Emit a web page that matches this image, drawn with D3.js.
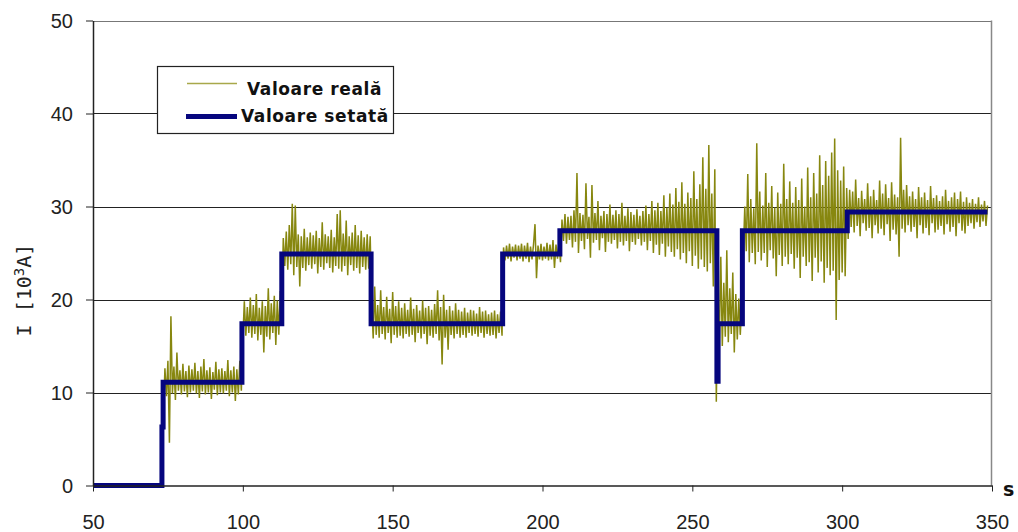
<!DOCTYPE html>
<html>
<head>
<meta charset="utf-8">
<script src="https://cdn.jsdelivr.net/npm/d3@7"></script>
<style>
  html, body { margin: 0; padding: 0; background: #fff; }
  svg { display: block; }
</style>
</head>
<body>
<svg id="chart" width="1018" height="532"></svg>
<script>
// Axis ticks
const xTicks = [50, 100, 150, 200, 250, 300, 350];
const yTicks = [0, 10, 20, 30, 40, 50];

// Set-point current (step series): change times [s] and levels [10^3 A]
const setTimes  = [50, 73.0, 73.4, 99.7, 113.0, 142.8, 186.7, 205.8, 258.2, 258.6, 266.7, 301.7, 348.5];
const setLevels = [0,  6.3,  11.1, 17.4, 24.9,  17.4,  24.9,  27.4,  11.2,  17.4,  27.4,  29.4,  29.4];

// Measured current, sampled every 0.5 s from t = 73 s (one row = 10 s)
const realStart = 73.0;
const realStep = 0.5;
const realValues = [
  0.2, 7.5, 12.6, 9.6, 13.4, 4.6, 18.2, 9.9, 12.8, 9.2, 14.3, 10.2, 12.4, 9.8, 13.1, 10.1, 12.3, 9.5, 12.9, 10.0,
  12.5, 10.2, 13.2, 9.9, 12.3, 9.4, 12.8, 10.1, 13.6, 9.8, 12.4, 10.0, 12.7, 9.3, 12.2, 10.3, 13.3, 9.7, 12.5, 10.0,
  12.6, 9.9, 12.3, 10.2, 13.5, 9.6, 12.4, 10.0, 12.8, 9.1, 12.5, 9.8, 13.4, 10.2, 15.8, 19.8, 16.1, 19.2, 16.4, 20.2,
  15.9, 19.4, 16.3, 20.6, 15.6, 19.1, 16.2, 19.8, 14.3, 19.3, 16.0, 21.2, 15.7, 19.6, 16.4, 20.4, 15.1, 19.9, 16.2, 20.9,
  19.0, 26.6, 23.6, 27.3, 23.2, 28.0, 23.8, 30.3, 22.6, 30.1, 23.5, 27.0, 21.4, 26.8, 23.4, 27.6, 23.1, 26.7, 23.7, 27.2,
  23.3, 26.9, 23.8, 27.4, 22.8, 26.6, 23.5, 28.3, 23.2, 27.0, 23.9, 26.8, 23.4, 27.5, 22.9, 26.7, 23.6, 29.2, 23.3, 29.6,
  23.0, 27.1, 23.6, 28.5, 22.6, 26.8, 23.7, 27.2, 23.1, 28.0, 23.4, 26.9, 22.8, 27.4, 23.5, 26.7, 23.2, 27.0, 23.3, 26.8,
  19.6, 15.8, 21.4, 16.2, 19.4, 15.9, 21.0, 16.3, 19.2, 15.7, 20.3, 16.4, 19.0, 15.3, 20.8, 16.2, 19.3, 15.9, 19.8, 16.1,
  19.1, 15.8, 19.6, 16.3, 18.9, 16.0, 20.2, 16.2, 19.0, 15.4, 19.4, 16.4, 18.8, 15.8, 19.9, 16.3, 19.1, 15.2, 19.3, 16.1,
  18.9, 15.9, 19.5, 16.3, 21.0, 15.6, 19.2, 13.0, 20.5, 15.9, 18.9, 14.6, 19.3, 16.2, 18.8, 15.8, 19.6, 16.3, 18.9, 15.9,
  18.7, 16.2, 19.1, 15.9, 18.6, 16.4, 18.9, 16.1, 18.8, 16.3, 18.5, 16.0, 19.2, 16.4, 18.7, 15.9, 18.8, 16.3, 18.4, 16.1,
  18.6, 16.2, 18.8, 15.8, 18.4, 16.4, 18.7, 16.1, 25.6, 24.2, 25.8, 24.4, 26.0, 24.1, 25.7, 24.5, 25.9, 24.2, 25.8, 24.4,
  26.0, 24.1, 25.8, 24.4, 26.1, 24.0, 25.7, 24.3, 25.9, 28.1, 22.3, 25.8, 24.3, 26.0, 24.2, 25.7, 24.4, 26.1, 24.2, 25.9,
  24.3, 26.4, 23.4, 25.9, 24.4, 26.1, 24.0, 28.6, 26.3, 29.2, 26.0, 28.9, 26.4, 29.0, 25.6, 29.6, 26.2, 33.6, 25.0, 29.3,
  26.3, 29.1, 25.4, 32.5, 26.5, 28.9, 24.5, 32.3, 26.1, 29.3, 26.4, 30.6, 25.3, 29.0, 26.6, 29.5, 25.1, 29.2, 26.2, 30.2,
  26.0, 29.1, 26.4, 29.6, 25.5, 29.2, 26.2, 30.4, 25.8, 29.0, 26.3, 29.8, 25.2, 29.4, 26.2, 29.1, 25.9, 29.7, 26.5, 29.0,
  25.8, 29.5, 26.2, 30.1, 25.3, 29.2, 26.3, 30.6, 25.0, 29.6, 25.9, 30.4, 24.8, 29.5, 26.0, 31.2, 24.6, 29.9, 25.7, 31.4,
  25.1, 30.2, 24.6, 32.0, 25.4, 30.5, 24.3, 32.6, 25.0, 30.3, 23.9, 31.5, 25.2, 30.9, 23.6, 33.8, 24.7, 30.8, 23.3, 32.4,
  24.3, 35.3, 23.5, 31.9, 23.0, 36.6, 23.9, 31.4, 21.4, 34.0, 9.0, 20.3, 15.8, 24.6, 15.0, 21.8, 16.0, 25.3, 15.4, 21.2,
  16.3, 22.9, 14.3, 20.6, 15.7, 20.1, 16.2, 19.6, 24.8, 30.0, 25.2, 33.5, 24.0, 30.8, 25.0, 29.8, 23.8, 36.8, 25.1, 31.6,
  24.2, 30.1, 25.0, 33.6, 23.5, 30.4, 25.3, 32.2, 24.4, 29.9, 22.5, 31.5, 24.8, 30.3, 23.6, 34.6, 24.6, 30.8, 23.8, 32.7,
  24.9, 30.4, 23.3, 32.1, 24.5, 30.7, 22.3, 33.0, 24.6, 30.0, 23.6, 34.2, 24.0, 31.0, 22.0, 33.6, 24.5, 31.4, 22.9, 35.5,
  24.1, 32.3, 21.8, 34.9, 23.4, 33.3, 22.6, 35.8, 23.1, 37.3, 17.8, 33.9, 22.1, 32.8, 22.9, 34.3, 22.5, 32.0, 26.5, 31.8,
  27.8, 31.6, 27.2, 32.9, 27.9, 30.9, 26.8, 31.7, 28.2, 30.8, 27.4, 32.5, 27.7, 31.1, 26.6, 31.8, 28.0, 30.7, 27.1, 32.8,
  27.6, 31.4, 26.9, 32.4, 28.1, 30.9, 26.3, 32.6, 27.5, 31.3, 27.0, 31.0, 24.6, 37.4, 27.6, 31.8, 27.2, 32.3, 28.0, 31.1,
  27.3, 31.6, 27.8, 30.8, 26.6, 32.1, 28.0, 31.0, 27.1, 31.5, 27.7, 30.7, 26.9, 32.2, 28.2, 30.9, 27.2, 31.2, 27.5, 30.6,
  27.9, 31.1, 27.0, 31.8, 28.1, 30.6, 27.3, 31.0, 27.8, 31.5, 26.8, 30.8, 28.2, 31.6, 27.4, 30.5, 27.1, 31.0, 27.9, 30.4,
  28.2, 30.8, 27.6, 30.3, 28.3, 31.0, 27.8, 30.2, 28.4, 30.6, 27.9, 30.1
];

const legendLabels = ["Valoare reală", "Valoare setată"];

const svg = d3.select("#chart");

const x = d3.scaleLinear().domain([50, 350]).range([93, 992]);
const y = d3.scaleLinear().domain([0, 50]).range([485.5, 20.5]);

const olive = "#87870f";
const navy = "#06067e";

// Horizontal gridlines (the top one doubles as the plot frame)
svg.append("g")
  .selectAll("line")
  .data(yTicks.filter(v => v > 0))
  .join("line")
  .attr("x1", x(50)).attr("x2", x(350))
  .attr("y1", d => Math.round(y(d)) + 0.5).attr("y2", d => Math.round(y(d)) + 0.5)
  .attr("stroke", d => d === 50 ? "#777" : "#222")
  .attr("stroke-width", 1);

// Right frame edge
svg.append("line")
  .attr("x1", x(350) - 0.5).attr("x2", x(350) - 0.5)
  .attr("y1", y(50)).attr("y2", y(0))
  .attr("stroke", "#888").attr("stroke-width", 1.5);

// Measured series
const realData = realValues.map((v, i) => [realStart + i * realStep, v]);
svg.append("path")
  .datum(realData)
  .attr("fill", "none")
  .attr("stroke", olive)
  .attr("stroke-width", 1.5)
  .attr("d", d3.line().x(d => x(d[0])).y(d => y(d[1])));

// Set-point step series
const setData = setTimes.map((t, i) => [t, setLevels[i]]);
svg.append("path")
  .datum(setData)
  .attr("fill", "none")
  .attr("stroke", navy)
  .attr("stroke-width", 5)
  .attr("stroke-linejoin", "miter")
  .attr("d", d3.line().curve(d3.curveStepAfter).x(d => x(d[0])).y(d => y(d[1])));

// Axes
const xAxis = d3.axisBottom(x).tickValues(xTicks).tickSize(6).tickSizeOuter(0).tickFormat(d3.format("d"));
const yAxis = d3.axisLeft(y).tickValues(yTicks).tickSize(7).tickSizeOuter(0).tickFormat(d3.format("d"));

const gx = svg.append("g").attr("transform", `translate(0,${y(0)})`).call(xAxis);
const gy = svg.append("g").attr("transform", `translate(${x(50)},0)`).call(yAxis);

[gx, gy].forEach(g => {
  g.select(".domain").attr("stroke", "#222").attr("stroke-width", 1.5);
  g.selectAll(".tick line").attr("stroke", "#222");
  g.selectAll(".tick text")
    .attr("fill", "#222")
    .style("font-family", "'Liberation Sans', Arial, sans-serif")
    .style("font-size", "20px");
});
gx.selectAll(".tick text").attr("dy", "0").attr("y", 43);
gy.selectAll(".tick text").attr("x", -20).attr("dy", "0.35em");

// Axis titles
svg.append("text")
  .attr("x", 1003).attr("y", 496)
  .style("font-family", "'DejaVu Sans', sans-serif")
  .style("font-weight", "bold")
  .style("font-size", "19px")
  .attr("fill", "#111")
  .text("s");

const yTitle = svg.append("text")
  .attr("transform", "translate(31,290) rotate(-90)")
  .attr("text-anchor", "middle")
  .style("font-family", "'DejaVu Sans Mono', monospace")
  .style("font-size", "20px")
  .attr("fill", "#222");
yTitle.append("tspan").text("I [10");
yTitle.append("tspan").attr("dy", -7).style("font-size", "14px").text("3");
yTitle.append("tspan").attr("dy", 7).text("A]");

// Legend
const legend = svg.append("g");
legend.append("rect")
  .attr("x", 157.5).attr("y", 66.5).attr("width", 236).attr("height", 67)
  .attr("fill", "#fff").attr("stroke", "#222").attr("stroke-width", 1.2);

legend.append("line")
  .attr("x1", 187).attr("x2", 237).attr("y1", 83.5).attr("y2", 83.5)
  .attr("stroke", "#a8a84a").attr("stroke-width", 1.5);
legend.append("line")
  .attr("x1", 186).attr("x2", 237).attr("y1", 116.5).attr("y2", 116.5)
  .attr("stroke", navy).attr("stroke-width", 5);

legend.selectAll("text.lab")
  .data(legendLabels)
  .join("text")
  .attr("class", "lab")
  .attr("x", (d, i) => i === 0 ? 247 : 241)
  .attr("y", (d, i) => i === 0 ? 95 : 122)
  .style("font-family", "'DejaVu Sans', sans-serif")
  .style("font-weight", "bold")
  .style("font-size", "17px")
  .style("letter-spacing", "0.6px")
  .attr("fill", "#111")
  .text(d => d);
</script>
</body>
</html>
